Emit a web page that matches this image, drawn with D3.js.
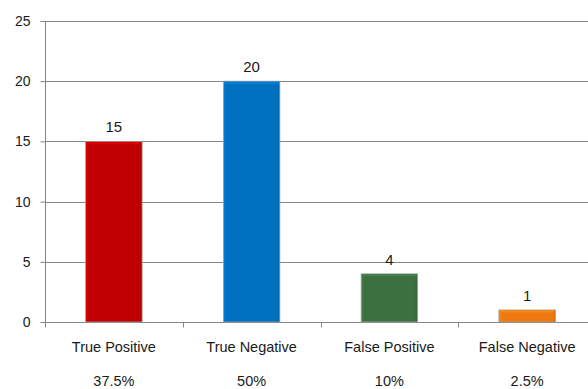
<!DOCTYPE html>
<html><head><meta charset="utf-8">
<script src="https://cdn.jsdelivr.net/npm/d3@7"></script>
<style>
body{margin:0;background:#fff;}
text{font-family:"Liberation Sans",Arial,sans-serif;fill:#1a1a1a;}
</style></head>
<body><svg id="c" width="588" height="389"></svg>
<script>
const categories = ["True Positive","True Negative","False Positive","False Negative"];
const values = [15,20,4,1];
const percents = ["37.5%","50%","10%","2.5%"];
const yTicks = [0,5,10,15,20,25];
const colors = ["#C00000","#0070C0","#3B7040","#F07810"];

(function(){
const svg = d3.select("#c");
const mLeft = 45, mRight = 596, mTop = 21, mBottom = 322;
const x = d3.scaleBand().domain(categories).range([mLeft,mRight]).paddingInner(0).paddingOuter(0);
const y = d3.scaleLinear().domain([0,25]).range([mBottom,mTop]);

const defs = svg.append("defs");
colors.forEach((c,i)=>{
  const g = defs.append("linearGradient").attr("id","g"+i).attr("x1",0).attr("x2",1).attr("y1",0).attr("y2",0);
  const lc = d3.color(c).brighter(0.4);
  g.append("stop").attr("offset","0%").attr("stop-color",lc);
  g.append("stop").attr("offset","6%").attr("stop-color",c);
  g.append("stop").attr("offset","94%").attr("stop-color",c);
  g.append("stop").attr("offset","100%").attr("stop-color",d3.color(c).darker(0.3));
});

// gridlines
svg.append("g").selectAll("line").data(yTicks.filter(d=>d>0)).join("line")
  .attr("x1",mLeft).attr("x2",588).attr("y1",d=>Math.round(y(d))+0.5).attr("y2",d=>Math.round(y(d))+0.5)
  .attr("stroke","#868686").attr("stroke-width",1);

// y axis
const ya = svg.append("g").attr("transform",`translate(${mLeft+0.5},0)`)
  .call(d3.axisLeft(y).tickValues(yTicks).tickSize(5).tickPadding(10));
ya.select(".domain").attr("stroke","#868686").attr("d",`M0,${mTop}V${mBottom+0.5}`);
ya.selectAll(".tick line").attr("stroke","#868686");
ya.selectAll(".tick text").attr("font-size",14).attr("fill","#1a1a1a").attr("font-family","Liberation Sans, Arial, sans-serif");

// x axis
const xa = svg.append("g").attr("transform",`translate(0,${mBottom+0.5})`);
xa.append("line").attr("x1",mLeft).attr("x2",588).attr("stroke","#868686");
const bounds = [0,1,2,3,4].map(i=>mLeft + i*x.step());
xa.selectAll(".tk").data(bounds).join("line").attr("class","tk")
  .attr("x1",d=>Math.round(d)+0.5).attr("x2",d=>Math.round(d)+0.5).attr("y1",0).attr("y2",5)
  .attr("stroke","#868686");

// bars
const bw = x.bandwidth()*0.41;
svg.append("g").selectAll("rect").data(values).join("rect")
  .attr("x",(d,i)=>x(categories[i])+x.bandwidth()/2-bw/2)
  .attr("y",d=>y(d))
  .attr("width",bw)
  .attr("height",d=>y(0)-y(d))
  .attr("fill",(d,i)=>`url(#g${i})`)
  .attr("stroke","#a0a0a0").attr("stroke-width",0.8);
// top highlight
svg.append("g").selectAll("rect").data(values).join("rect")
  .attr("x",(d,i)=>x(categories[i])+x.bandwidth()/2-bw/2+1)
  .attr("y",d=>y(d)+0.5)
  .attr("width",bw-2).attr("height",2)
  .attr("fill",(d,i)=>d3.color(colors[i]).brighter(0.5)).attr("opacity",0.7);

// value labels
svg.append("g").selectAll("text").data(values).join("text")
  .attr("x",(d,i)=>x(categories[i])+x.bandwidth()/2)
  .attr("y",d=>y(d)-9)
  .attr("text-anchor","middle").attr("font-size",15).text(d=>d);

// category labels
svg.append("g").selectAll("text").data(categories).join("text")
  .attr("x",d=>x(d)+x.bandwidth()/2).attr("y",352)
  .attr("text-anchor","middle").attr("font-size",14.5).text(d=>d);
svg.append("g").selectAll("text").data(percents).join("text")
  .attr("x",(d,i)=>x(categories[i])+x.bandwidth()/2).attr("y",386)
  .attr("text-anchor","middle").attr("font-size",14.5).text(d=>d);
})();
</script></body></html>
